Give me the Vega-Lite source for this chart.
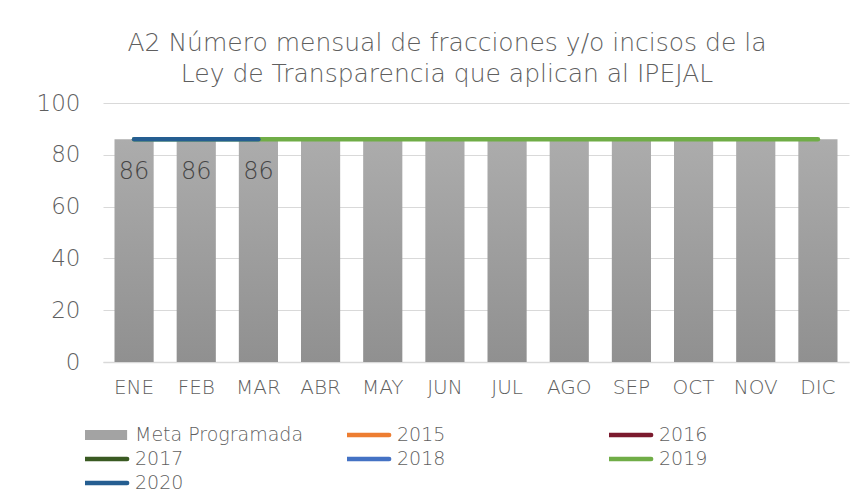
{
  "$schema": "https://vega.github.io/schema/vega-lite/v6.json",
  "width": 746,
  "height": 259,
  "autosize": {"type": "none"},
  "padding": {"left": 103, "top": 103, "right": 12, "bottom": 142},
  "background": "white",
  "config": {
    "font": "DejaVu Sans",
    "view": {"stroke": null},
    "title": {"font": "DejaVu Sans", "fontWeight": 200, "fontSize": 25, "color": "#5f5f5f", "lineHeight": 31}
  },
  "title": {
    "text": ["A2 Número mensual de fracciones y/o incisos de la", "Ley de Transparencia que aplican al IPEJAL"],
    "anchor": "middle",
    "offset": 5,
    "dx": -29
  },
  "datasets": {
    "meta": [
      {"mes": "ENE", "valor": 86}, {"mes": "FEB", "valor": 86}, {"mes": "MAR", "valor": 86},
      {"mes": "ABR", "valor": 86}, {"mes": "MAY", "valor": 86}, {"mes": "JUN", "valor": 86},
      {"mes": "JUL", "valor": 86}, {"mes": "AGO", "valor": 86}, {"mes": "SEP", "valor": 86},
      {"mes": "OCT", "valor": 86}, {"mes": "NOV", "valor": 86}, {"mes": "DIC", "valor": 86}
    ],
    "s2019": [
      {"mes": "ENE", "valor": 86, "serie": "2019"}, {"mes": "FEB", "valor": 86, "serie": "2019"},
      {"mes": "MAR", "valor": 86, "serie": "2019"}, {"mes": "ABR", "valor": 86, "serie": "2019"},
      {"mes": "MAY", "valor": 86, "serie": "2019"}, {"mes": "JUN", "valor": 86, "serie": "2019"},
      {"mes": "JUL", "valor": 86, "serie": "2019"}, {"mes": "AGO", "valor": 86, "serie": "2019"},
      {"mes": "SEP", "valor": 86, "serie": "2019"}, {"mes": "OCT", "valor": 86, "serie": "2019"},
      {"mes": "NOV", "valor": 86, "serie": "2019"}, {"mes": "DIC", "valor": 86, "serie": "2019"}
    ],
    "s2020": [
      {"mes": "ENE", "valor": 86, "serie": "2020"},
      {"mes": "FEB", "valor": 86, "serie": "2020"},
      {"mes": "MAR", "valor": 86, "serie": "2020"}
    ]
  },
  "encoding": {
    "x": {
      "field": "mes", "type": "nominal",
      "sort": ["ENE","FEB","MAR","ABR","MAY","JUN","JUL","AGO","SEP","OCT","NOV","DIC"],
      "scale": {"domain": ["ENE","FEB","MAR","ABR","MAY","JUN","JUL","AGO","SEP","OCT","NOV","DIC"], "paddingInner": 0.37, "paddingOuter": 0.185},
      "axis": {"title": null, "labelAngle": 0, "labelFont": "DejaVu Sans", "labelFontWeight": 200, "labelFontSize": 20, "labelColor": "#5f5f5f", "labelPadding": 15, "ticks": false, "domainColor": "#d9d9d9", "domainWidth": 1.5}
    },
    "y": {
      "field": "valor", "type": "quantitative",
      "scale": {"domain": [0, 100]},
      "axis": {"title": null, "values": [0,20,40,60,80,100], "labelFont": "DejaVu Sans", "labelFontWeight": 200, "labelFontSize": 23, "labelColor": "#5f5f5f", "labelPadding": 23, "ticks": false, "domain": false, "gridColor": "#d9d9d9", "gridWidth": 1.2}
    }
  },
  "layer": [
    {
      "data": {"name": "meta"},
      "mark": {"type": "bar", "color": {"gradient": "linear", "x1": 0, "y1": 0, "x2": 0, "y2": 1, "stops": [{"offset": 0, "color": "#acacac"}, {"offset": 1, "color": "#909090"}]}},
      "encoding": {}
    },
    {
      "data": {"name": "s2019"},
      "mark": {"type": "line", "strokeWidth": 4.5, "strokeCap": "round"},
      "encoding": {
        "color": {
          "field": "serie", "type": "nominal",
          "scale": {"domain": ["Meta Programada","2015","2016","2017","2018","2019","2020"], "range": ["#a3a3a3","#ED7D31","#7B1A2E","#3A5A22","#4472C4","#70AD47","#255E91"]},
          "legend": {
            "title": null, "orient": "none", "legendX": -18, "legendY": 322,
            "direction": "horizontal",
            "columns": 3, "gridAlign": "all", "columnPadding": 43, "rowPadding": 4, "clipHeight": 20,
            "symbolType": "M-1.45,0H1.45", "symbolSize": 2025, "symbolStrokeWidth": 10,
            "labelFont": "DejaVu Sans", "labelFontWeight": 200, "labelFontSize": 19, "labelColor": "#5f5f5f", "labelOffset": 31, "labelLimit": 300,
            "encode": {"symbols": {"update": {
              "strokeWidth": {"signal": "datum.label === 'Meta Programada' ? 10 : 4.5"},
              "strokeCap": {"signal": "datum.label === 'Meta Programada' ? 'butt' : 'round'"}
            }}}
          }
        }
      }
    },
    {
      "data": {"name": "s2020"},
      "mark": {"type": "line", "strokeWidth": 4.5, "strokeCap": "round"},
      "encoding": {"color": {"field": "serie", "type": "nominal"}}
    },
    {
      "data": {"name": "s2020"},
      "mark": {"type": "text", "dy": 33, "fontSize": 24, "font": "DejaVu Sans", "fontWeight": 200, "color": "#454545"},
      "encoding": {"text": {"field": "valor", "type": "quantitative"}}
    }
  ]
}
